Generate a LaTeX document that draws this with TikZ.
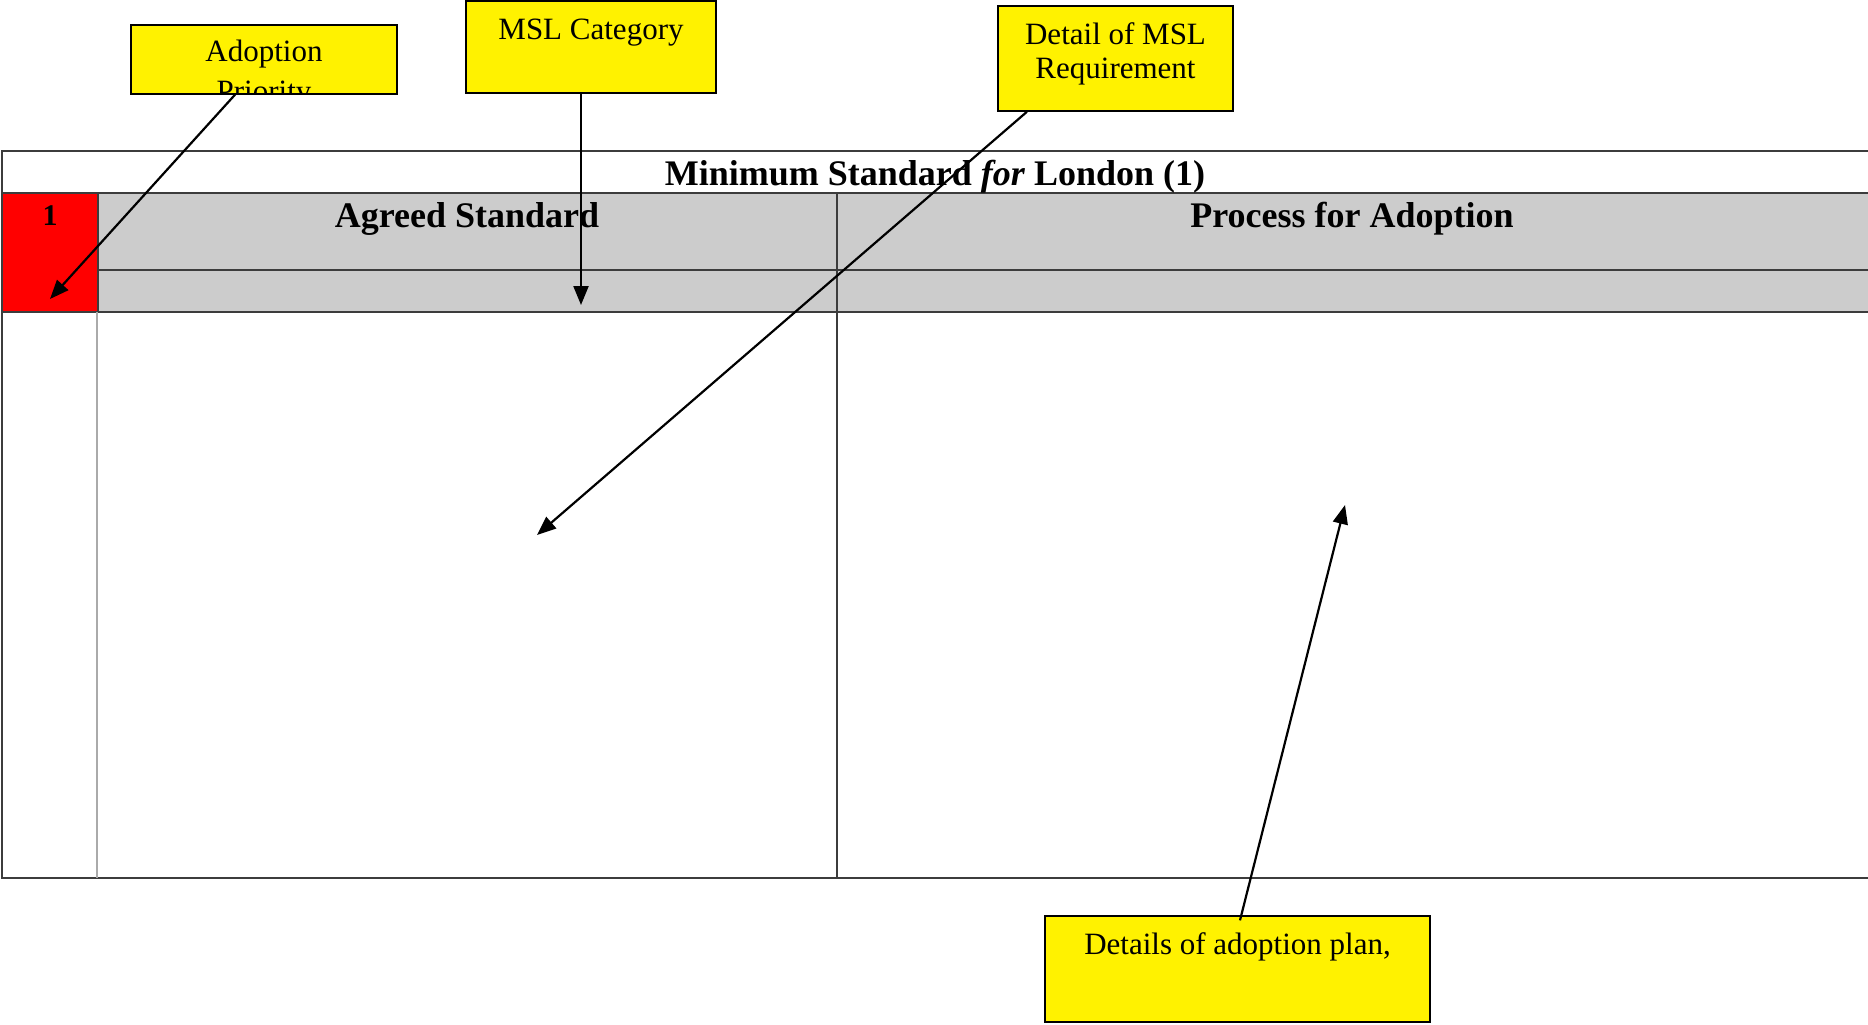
\documentclass[tikz,border=0pt]{standalone}
\usepackage{fontspec}
\setmainfont{Liberation Serif}
\usetikzlibrary{arrows.meta,calc}
\definecolor{hdrgray}{RGB}{204,204,204}
\definecolor{linegray}{RGB}{60,60,60}
\definecolor{lightline}{RGB}{170,170,170}
\begin{document}
\begin{tikzpicture}[x=0.5pt,y=-0.5pt,
 callout/.style={draw=black,line width=0.7pt,fill=yellow,inner sep=0pt},
 calltext/.style={font=\fontsize{15.5}{17}\selectfont,align=center,inner sep=0pt},
 hdr/.style={font=\fontsize{18}{20}\selectfont\bfseries,inner sep=0pt},
 tline/.style={draw=linegray,line width=0.6pt},
 arr/.style={draw=black,line width=1.1pt,-{Triangle[length=9.5pt,width=7.5pt]}}]
\useasboundingbox[fill=white] (0,0) rectangle (1868,1024);
% table fills
\fill[red] (2,193) rectangle (98,312);
\fill[hdrgray] (98,193) rectangle (1868,312);
% table lines
\draw[tline] (1868,151) -- (2,151) -- (2,878) -- (1868,878);
\draw[tline] (2,193) -- (1868,193);
\draw[tline] (98,270) -- (1868,270);
\draw[tline] (2,312) -- (1868,312);
\draw[tline] (98,193) -- (98,312);
\draw[draw=lightline,line width=0.6pt] (97,312) -- (97,878);
\draw[tline] (837,193) -- (837,878);
% table texts
\node[hdr] (title) at (935,177) {Minimum Standard \textit{for} London (1)};
\node[hdr,font=\fontsize{15}{17}\selectfont\bfseries] (num) at (50,216) {1};
\node[hdr] (agreed) at (467,219) {Agreed Standard};
\node[hdr] (process) at (1352,219) {Process for Adoption};
% callouts
\node[callout,minimum width=133pt,minimum height=34.5pt] (prio) at (264,59.5) {};
\node[calltext] (priotext1) at (264,54) {Adoption};
\begin{scope}
\clip (prio.south west) rectangle (prio.north east);
\node[calltext] (priotext2) at (264,95) {Priority};
\end{scope}
\node[callout,fill=none] (prioframe) at (prio) [minimum width=133pt,minimum height=34.5pt] {};
\node[callout,minimum width=125pt,minimum height=46pt] (cat) at (591,47) {};
\node[calltext] (cattext) at (591,32.5) {MSL Category};
\node[callout,minimum width=117.5pt,minimum height=52.5pt] (detail) at (1115.5,58.5) {};
\node[calltext] (detailtext) at (1115.5,53.5) {Detail of MSL\\Requirement};
\node[callout,minimum width=192.5pt,minimum height=53pt] (plan) at (1237.5,969) {};
\node[calltext] (plantext) at (1237.5,946.5) {Details of adoption plan,};
% arrow targets
\coordinate (t1) at (50,299);
\coordinate (t2) at (581,305);
\coordinate (t3) at (537,535);
\coordinate (t4) at (1345,505);
% arrows
\draw[arr] ($(prio.south)+(-29,0)$) -- (t1);
\draw[arr] ($(cat.south)+(-10,0)$) -- (t2);
\draw[arr] ($(detail.south)+(-88.5,0)$) -- (t3);
\draw[arr] ($(plan.north)+(2.5,5)$) -- (t4);
\end{tikzpicture}
\end{document}
